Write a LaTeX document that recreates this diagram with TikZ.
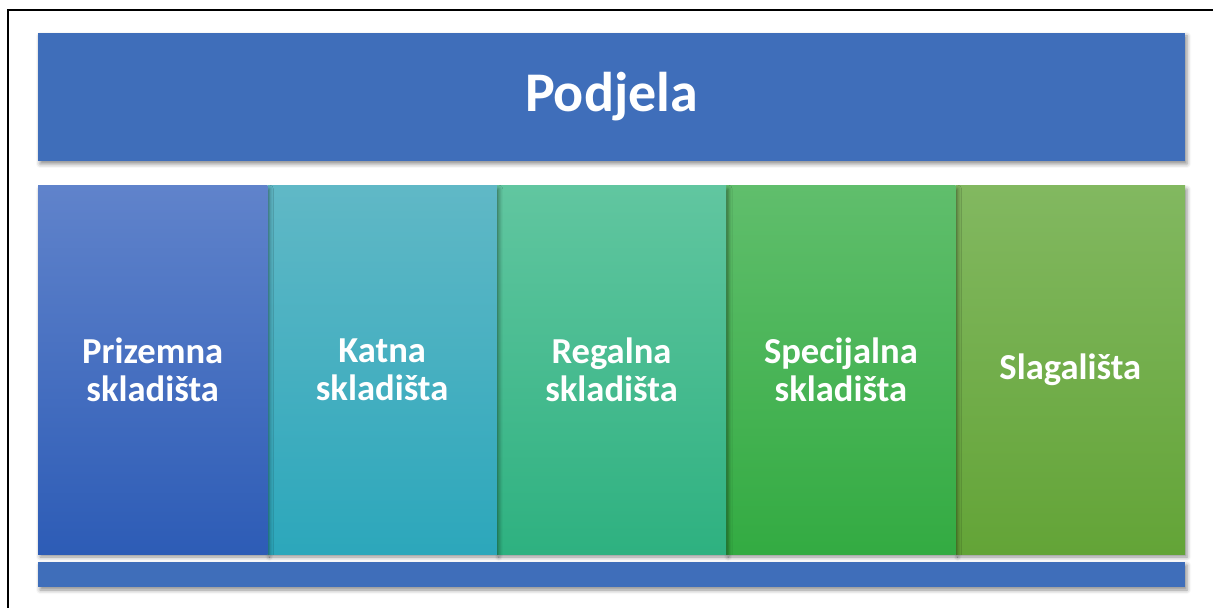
\documentclass[tikz,border=0pt]{standalone}
\usepackage{fontspec}
\setmainfont{Carlito}
\usepackage{tikz}
\usetikzlibrary{shadows.blur}
\tikzstyle{diagram} = [x = 0.5pt, y = -0.5pt]
\definecolor{bannerColor}{RGB}{63,110,186}
\definecolor{prizemnaTop}{RGB}{96,131,203}
\definecolor{prizemnaBottom}{RGB}{45,92,182}
\definecolor{katnaTop}{RGB}{96,184,198}
\definecolor{katnaBottom}{RGB}{44,167,187}
\definecolor{regalnaTop}{RGB}{97,198,160}
\definecolor{regalnaBottom}{RGB}{46,177,128}
\definecolor{specijalnaTop}{RGB}{96,190,108}
\definecolor{specijalnaBottom}{RGB}{51,171,66}
\definecolor{slagalistaTop}{RGB}{130,184,96}
\definecolor{slagalistaBottom}{RGB}{99,164,55}
\tikzstyle{frameLine} = [color=black, line width=1pt]
\tikzstyle{boxShadow} = [blur shadow={shadow xshift=1pt, shadow yshift=-1.5pt, shadow blur radius=2pt, shadow opacity=45}]
\tikzstyle{bannerStyle} = [fill=bannerColor, boxShadow, inner sep=0, outer sep=0, anchor=north west, minimum width=573.5pt, text=white, font=\fontsize{28}{29}\selectfont\bfseries]
\tikzstyle{columnStyle} = [boxShadow, inner sep=0, outer sep=0, anchor=north west, minimum width=114.7pt, minimum height=184pt, align=center, text=white, font=\fontsize{18.3}{19}\selectfont\bfseries]
\newcommand{\storageColumn}[4]{\node [columnStyle, top color=#3Top, bottom color=#3Bottom] (#1) at (#2, 186) {#4};}

\begin{document}
\begin{tikzpicture}[diagram]
  \useasboundingbox (0,0) rectangle (1213,608);
  \draw [frameLine] (8,10) rectangle (1240,640);

  \node [bannerStyle, minimum height=64pt] (podjela) at (38,33) {Podjela};

  % columns drawn right to left so each shadow falls on the next one
  \storageColumn{slagalista}{955.6}{slagalista}{Slagališta}
  \storageColumn{specijalna}{726.2}{specijalna}{Specijalna\\skladišta}
  \storageColumn{regalna}{496.8}{regalna}{Regalna\\skladišta}
  \storageColumn{katna}{267.4}{katna}{Katna\\skladišta}
  \storageColumn{prizemna}{38}{prizemna}{Prizemna\\skladišta}

  \node [bannerStyle, minimum height=12.5pt] (base) at (38,562) {};
\end{tikzpicture}
\end{document}
